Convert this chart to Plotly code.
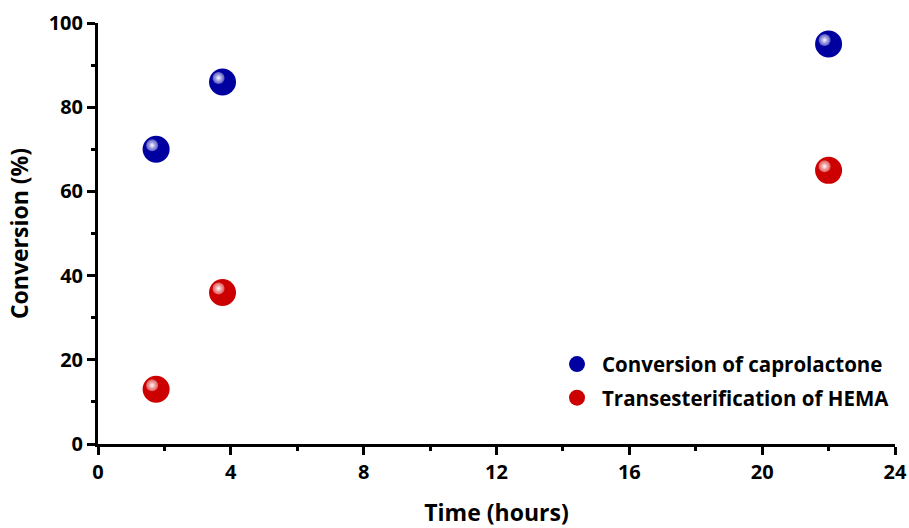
import plotly.graph_objects as go

time_h = [1.75, 3.75, 22]
caprolactone = [70, 86, 95]
hema = [13, 36, 65]
series_names = ["Conversion of caprolactone", "Transesterification of HEMA"]
x_ticks = [0, 4, 8, 12, 16, 20, 24]
y_ticks = [0, 20, 40, 60, 80, 100]

FONT = "Open Sans"
blue = "#0000A0"
red = "#CC0000"

fig = go.Figure()

# main spheres
for i, (ys, col, name) in enumerate([(caprolactone, blue, series_names[0]), (hema, red, series_names[1])]):
    fig.add_trace(go.Scatter(
        x=time_h, y=ys, mode="markers", name=name, legendgroup=f"g{i}",
        marker=dict(size=27, color=col, line=dict(width=0)),
        xaxis="x", yaxis="y"))

# highlights (same data, drawn on slightly shifted overlay axes)
dx = 0.12
dy = 0.95
for ys, edge in [(caprolactone, "rgba(150,150,225,0.6)"), (hema, "rgba(240,150,150,0.6)")]:
    fig.add_trace(go.Scatter(
        x=time_h, y=ys, mode="markers", showlegend=False, hoverinfo="skip",
        marker=dict(size=12, color=edge, line=dict(width=0),
                    gradient=dict(type="radial", color="white")),
        xaxis="x2", yaxis="y2"))

axis_common = dict(showline=True, linecolor="black", linewidth=3,
                   ticks="outside", ticklen=8, tickwidth=3, tickcolor="black",
                   showgrid=False, zeroline=False, mirror=False, automargin=False,
                   tickfont=dict(family=FONT, size=20, color="black", weight="bold"))

title_font = dict(family=FONT, size=23, color="black", weight="bold")

fig.update_layout(
    width=909, height=528,
    margin=dict(l=98, r=14, t=23, b=84),
    paper_bgcolor="white", plot_bgcolor="white",
    xaxis=dict(range=[0, 24], tickvals=x_ticks,
               minor=dict(tickvals=[2, 6, 10, 14, 18, 22], ticklen=4, tickwidth=3, tickcolor="black", ticks="outside"),
               title=dict(text="Time (hours)", font=title_font, standoff=23),
               **axis_common),
    yaxis=dict(range=[0, 100], tickvals=y_ticks,
               minor=dict(tickvals=[10, 30, 50, 70, 90], ticklen=4, tickwidth=3, tickcolor="black", ticks="outside"),
               title=dict(text="Conversion (%)", font=title_font, standoff=14),
               **axis_common),
    xaxis2=dict(range=[dx, 24 + dx], overlaying="x", visible=False, anchor="y2"),
    yaxis2=dict(range=[-dy, 100 - dy], overlaying="y", visible=False, anchor="x2"),
    legend=dict(x=1.0, y=0.237, xanchor="right", yanchor="top",
                font=dict(family=FONT, size=20.5, color="black", weight="bold"),
                bgcolor="rgba(0,0,0,0)", itemsizing="trace", tracegroupgap=4,
                itemwidth=40),
    showlegend=True,
)

fig.write_html("out.html")
